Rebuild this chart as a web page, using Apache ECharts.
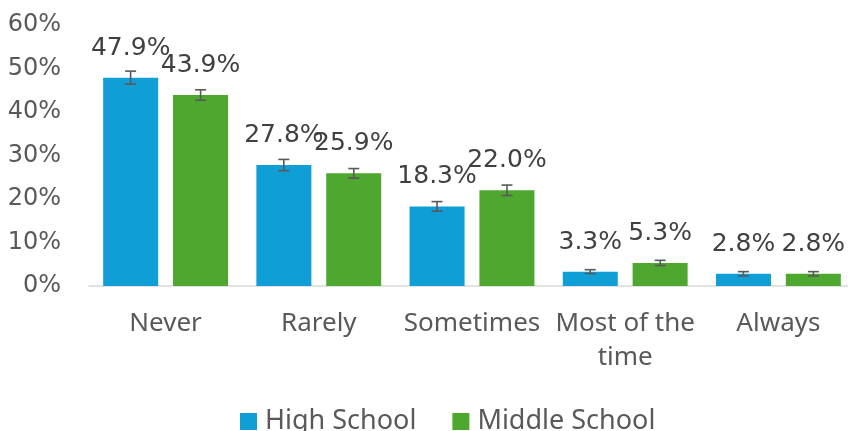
<!DOCTYPE html>
<html>
<head>
<meta charset="utf-8">
<script src="https://cdn.jsdelivr.net/npm/echarts@6/dist/echarts.min.js"></script>
<style>html,body{margin:0;padding:0;background:#fff;overflow:hidden;width:848px;height:431px}#c{width:862px;height:431px}</style>
</head>
<body>
<div id="c"></div>
<script>
var categories = ['Never', 'Rarely', 'Sometimes', 'Most of the\ntime', 'Always'];
var highSchool = [47.9, 27.8, 18.3, 3.3, 2.8];
var middleSchool = [43.9, 25.9, 22.0, 5.3, 2.8];
var highSchoolErr = [1.5, 1.3, 1.1, 0.45, 0.5];
var middleSchoolErr = [1.2, 1.1, 1.2, 0.6, 0.5];
var yTicks = [0, 10, 20, 30, 40, 50, 60];

var chart = echarts.init(document.getElementById('c'));
var HS = '#0F9ED5', MS = '#4EA72E';
var OFFSET = 35 / 153.25;

function errSeries(name, vals, errs, sign) {
  return {
    type: 'custom',
    name: name + ' err',
    z: 5,
    silent: true,
    data: vals.map(function (v, i) { return [i, v - errs[i], v + errs[i]]; }),
    renderItem: function (params, api) {
      var band = api.size([1, 0])[0];
      var lo = api.coord([api.value(0), api.value(1)]);
      var hi = api.coord([api.value(0), api.value(2)]);
      var x = lo[0] + sign * band * OFFSET;
      var cap = 5.5;
      var style = { stroke: '#595959', lineWidth: 1.6 };
      return {
        type: 'group',
        children: [
          { type: 'line', shape: { x1: x, y1: lo[1], x2: x, y2: hi[1] }, style: style },
          { type: 'line', shape: { x1: x - cap, y1: lo[1], x2: x + cap, y2: lo[1] }, style: style },
          { type: 'line', shape: { x1: x - cap, y1: hi[1], x2: x + cap, y2: hi[1] }, style: style }
        ]
      };
    }
  };
}

var labelStyle = {
  show: true, position: 'top', distance: 17,
  fontFamily: 'DejaVu Sans', fontSize: 25, color: '#404040',
  formatter: function (p) { return p.value.toFixed(1) + '%'; }
};

chart.setOption({
  animation: false,
  grid: { left: 89, right: 7, top: 25, bottom: 145, containLabel: false },
  legend: {
    data: ['High School', 'Middle School'],
    bottom: -9, left: 235,
    itemWidth: 17, itemHeight: 17, itemGap: 36,
    icon: 'rect',
    textStyle: { fontFamily: 'Noto Sans', fontSize: 27, color: '#595959', padding: [0, 0, 0, 3] }
  },
  xAxis: {
    type: 'category',
    data: categories,
    axisLine: { lineStyle: { color: '#D9D9D9', width: 1.5 } },
    axisTick: { show: false },
    axisLabel: {
      interval: 0, margin: 21,
      fontFamily: 'Noto Sans', fontSize: 26, lineHeight: 34, color: '#595959'
    }
  },
  yAxis: {
    type: 'value', min: yTicks[0], max: yTicks[yTicks.length - 1], interval: 10,
    splitLine: { show: false },
    axisLine: { show: false },
    axisTick: { show: false },
    axisLabel: {
      margin: 28, fontFamily: 'DejaVu Sans', fontSize: 24, color: '#595959',
      formatter: function (v) { return v + '%'; }
    }
  },
  series: [
    { name: 'High School', type: 'bar', data: highSchool, barWidth: 55, barGap: '27%',
      itemStyle: { color: HS }, label: labelStyle },
    { name: 'Middle School', type: 'bar', data: middleSchool, barWidth: 55, barGap: '27%',
      itemStyle: { color: MS }, label: labelStyle },
    errSeries('High School', highSchool, highSchoolErr, -1),
    errSeries('Middle School', middleSchool, middleSchoolErr, 1)
  ]
});
</script>
</body>
</html>
